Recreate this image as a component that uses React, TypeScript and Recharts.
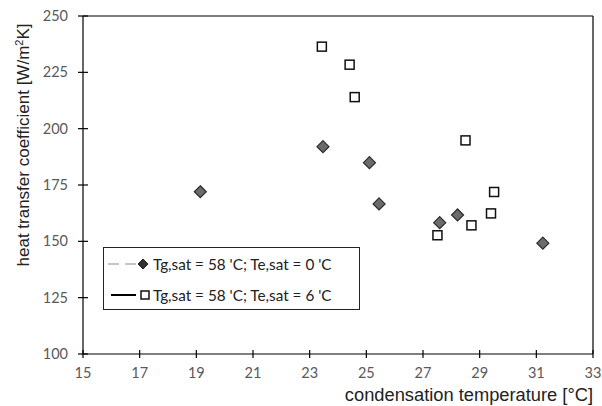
import {
  ScatterChart,
  Scatter,
  XAxis,
  YAxis,
  ReferenceLine,
} from "recharts";

const xTicks = [15, 17, 19, 21, 23, 25, 27, 29, 31, 33];
const yTicks = [100, 125, 150, 175, 200, 225, 250];

const labelTe0 = "Tg,sat = 58 'C; Te,sat = 0 'C";
const labelTe6 = "Tg,sat = 58 'C; Te,sat = 6 'C";

// Te,sat = 0 °C series (grey diamonds)
const te0Temp = [19.14, 23.47, 25.11, 25.45, 27.59, 28.22, 31.23];
const te0Htc = [172, 192, 184.9, 166.6, 158.3, 161.7, 149.2];

// Te,sat = 6 °C series (open squares)
const te6Temp = [23.43, 24.41, 24.59, 28.5, 29.51, 29.4, 28.71, 27.51];
const te6Htc = [236.4, 228.4, 214, 194.8, 171.9, 162.4, 157.1, 152.7];

const te0Data = te0Temp.map((t, i) => ({ t, h: te0Htc[i] }));
const te6Data = te6Temp.map((t, i) => ({ t, h: te6Htc[i] }));

const tickFont = "Lato, 'Open Sans', sans-serif";
const titleFont = "'Liberation Sans', Arial, sans-serif";

function Diamond({ cx, cy }: { cx?: number; cy?: number }) {
  if (cx == null || cy == null) return null;
  const r = 6;
  return (
    <path
      d={`M${cx},${cy - r}L${cx + r},${cy}L${cx},${cy + r}L${cx - r},${cy}Z`}
      fill="#6b6b6b"
      stroke="#2b2b2b"
      strokeWidth={1.2}
    />
  );
}

function Square({ cx, cy }: { cx?: number; cy?: number }) {
  if (cx == null || cy == null) return null;
  const s = 9;
  return (
    <rect
      x={cx - s / 2}
      y={cy - s / 2}
      width={s}
      height={s}
      fill="#fff"
      stroke="#111"
      strokeWidth={1.5}
    />
  );
}

function XTick({ x, y, payload }: any) {
  const axisY = y - 8;
  return (
    <g>
      <line x1={x} x2={x} y1={axisY - 4} y2={axisY + 4} stroke="#000" strokeWidth={1.2} />
      <text x={x} y={axisY + 24} textAnchor="middle" fill="#595959" fontSize={14.5} fontFamily={tickFont}>
        {payload.value}
      </text>
    </g>
  );
}

function YTick({ x, y, payload }: any) {
  const axisX = x + 8;
  return (
    <g>
      <line x1={axisX - 5} x2={axisX + 5} y1={y} y2={y} stroke="#000" strokeWidth={1.2} />
      <text x={axisX - 15} y={y + 5} textAnchor="end" fill="#595959" fontSize={14.5} fontFamily={tickFont}>
        {payload.value}
      </text>
    </g>
  );
}

function LegendBox() {
  const row = (dashed: boolean, label: string) => (
    <div style={{ display: "flex", alignItems: "center", height: 31 }}>
      <svg width={43} height={16} style={{ marginLeft: 3, flex: "none" }}>
        <line
          x1={dashed ? 1 : 4}
          x2={dashed ? 31 : 29}
          y1={8}
          y2={8}
          stroke={dashed ? "#8c8c8c" : "#000"}
          strokeWidth={dashed ? 1.2 : 2}
          strokeDasharray={dashed ? "11 6" : undefined}
        />
        {dashed ? (
          <path d="M36,3L41,8L36,13L31,8Z" fill="#333" stroke="#222" strokeWidth={1} />
        ) : (
          <rect x={34} y={4} width={8} height={8} fill="#fff" stroke="#111" strokeWidth={1.5} />
        )}
      </svg>
      <span style={{ fontFamily: tickFont, fontSize: 15.3, color: "#222", marginLeft: 3, whiteSpace: "nowrap" }}>
        {label}
      </span>
    </div>
  );
  return (
    <div
      style={{
        position: "absolute",
        left: 103,
        top: 247,
        width: 257,
        height: 63,
        border: "1.5px solid #222",
        boxSizing: "border-box",
        background: "#fff",
        paddingTop: 0,
      }}
    >
      {row(true, labelTe0)}
      {row(false, labelTe6)}
    </div>
  );
}

export default function App() {
  return (
    <div style={{ position: "absolute", left: 0, top: 0, width: 602, height: 406, background: "#fff" }}>
      <ScatterChart width={602} height={406} margin={{ top: 16, right: 9, bottom: 12, left: 33 }}>
        <XAxis
          type="number"
          dataKey="t"
          domain={[15, 33]}
          ticks={xTicks}
          interval={0}
          tick={<XTick />}
          tickLine={false}
          tickSize={0}
          tickMargin={8}
          height={40}
          stroke="#000"
          strokeWidth={1.2}
        />
        <YAxis
          type="number"
          dataKey="h"
          domain={[100, 250]}
          ticks={yTicks}
          interval={0}
          tick={<YTick />}
          tickLine={false}
          tickSize={0}
          tickMargin={8}
          width={50}
          stroke="#000"
          strokeWidth={1.2}
        />
        <ReferenceLine y={250} stroke="#000" strokeWidth={1.2} />
        <ReferenceLine x={33} stroke="#000" strokeWidth={1.2} />
        <Scatter name={labelTe0} data={te0Data} shape={<Diamond />} isAnimationActive={false} />
        <Scatter name={labelTe6} data={te6Data} shape={<Square />} isAnimationActive={false} />
        <text
          x={0}
          y={0}
          transform="translate(29,145) rotate(-90)"
          textAnchor="middle"
          fontFamily={titleFont}
          fontSize={17}
          fill="#222"
        >
          heat transfer coefficient [W/m<tspan dy={-6} fontSize={11}>2</tspan>
          <tspan dy={6}>K]</tspan>
        </text>
        <text x={593} y={401} textAnchor="end" fontFamily={titleFont} fontSize={18.3} fill="#222">
          condensation temperature [°C]
        </text>
      </ScatterChart>
      <LegendBox />
    </div>
  );
}
